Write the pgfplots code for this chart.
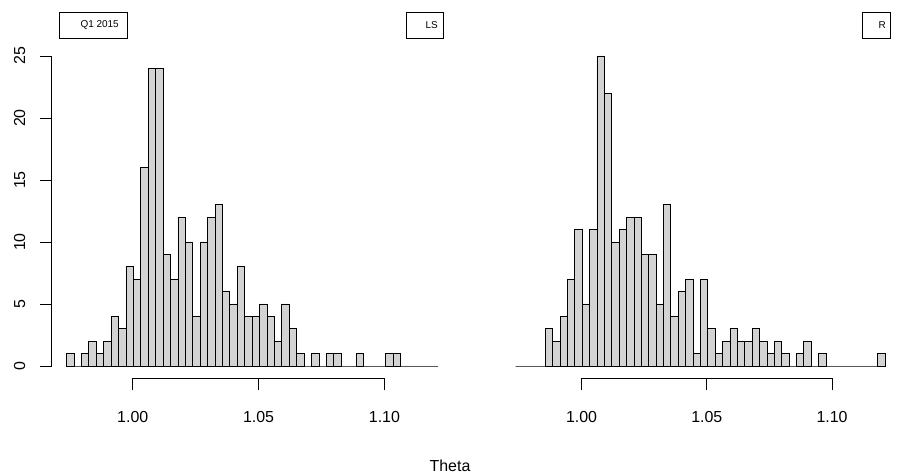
\documentclass[border=0pt]{standalone}
\usepackage{pgfplots}
\pgfplotsset{compat=1.18}
\usepackage{fontspec}
\setmainfont{Liberation Sans}
\definecolor{barfill}{RGB}{211,211,211}

\pgfplotstableread{
edge left right
0.97370 1 0
0.97665 0 0
0.97960 1 0
0.98255 2 0
0.98550 1 3
0.98845 2 2
0.99140 4 4
0.99435 3 7
0.99730 8 11
1.00025 7 5
1.00320 16 11
1.00615 24 25
1.00910 24 22
1.01205 9 10
1.01500 7 11
1.01795 12 12
1.02090 10 12
1.02385 4 9
1.02680 10 9
1.02975 12 5
1.03270 13 13
1.03565 6 4
1.03860 5 6
1.04155 8 7
1.04450 4 1
1.04745 4 7
1.05040 5 3
1.05335 4 1
1.05630 2 2
1.05925 5 3
1.06220 3 2
1.06515 1 2
1.06810 0 3
1.07105 1 2
1.07400 0 1
1.07695 1 2
1.07990 1 1
1.08285 0 0
1.08580 0 1
1.08875 1 2
1.09170 0 0
1.09465 0 1
1.09760 0 0
1.10055 1 0
1.10350 1 0
1.10645 0 0
1.10940 0 0
1.11235 0 0
1.11530 0 0
1.11825 0 1
1.12120 0 0
}\histdata

\begin{document}
\begin{tikzpicture}
\pgfplotsset{
  hist/.style={
    scale only axis, height=334.8bp,
    xmin=0.9678, xmax=1.1271, ymin=-1, ymax=26,
    axis x line*=bottom, axis y line*=left,
    axis line style={draw=none},
    tick align=outside, major tick length=12bp,
    tick style={black, line width=0.8bp},
    xtick={1.00,1.05,1.10},
    xticklabels={1.00,1.05,1.10},
    ticklabel style={font=\fontsize{16}{19}\selectfont},
    /pgf/number format/assume math mode=true,
    xticklabel shift=17bp,
    clip=false,
    anchor=south west,
  },
  bars/.style={ybar interval, fill=barfill, draw=black, line width=0.8bp},
}
\begin{axis}[hist, at={(51.7bp,95.6bp)}, width=400.9bp,
  ytick={0,5,10,15,20,25},
  yticklabel style={rotate=90, anchor=south},
  yticklabel shift=11bp]
  \addplot[bars] table[x=edge, y=left] {\histdata};
  \draw[line width=0.8bp] (axis cs:1.00,-1) -- (axis cs:1.10,-1);
  \draw[line width=0.8bp] (axis cs:0.9678,0) -- (axis cs:0.9678,25);
\end{axis}
\begin{axis}[hist, at={(500.9bp,95.6bp)}, width=399bp, ytick=\empty]
  \addplot[bars] table[x=edge, y=right] {\histdata};
  \draw[line width=0.8bp] (axis cs:1.00,-1) -- (axis cs:1.10,-1);
\end{axis}
\draw[line width=0.8bp] (59bp,436bp) rectangle (127bp,462bp);
\node[anchor=east, inner sep=0pt, font=\fontsize{10}{12}\selectfont] at (119bp,449bp) {Q1 2015};
\draw[line width=0.8bp] (406bp,436bp) rectangle (443bp,462bp);
\node[anchor=east, inner sep=0pt, font=\fontsize{10}{12}\selectfont] at (438bp,449bp) {LS};
\draw[line width=0.8bp] (862bp,436bp) rectangle (890bp,462bp);
\node[anchor=east, inner sep=0pt, font=\fontsize{10}{12}\selectfont] at (886bp,449bp) {R};
\node[anchor=base, inner sep=0pt, font=\fontsize{16}{19}\selectfont] at (450bp,3bp) {Theta};
\pgfresetboundingbox
\path[use as bounding box] (0bp,0bp) rectangle (900bp,474bp);
\end{tikzpicture}
\end{document}
